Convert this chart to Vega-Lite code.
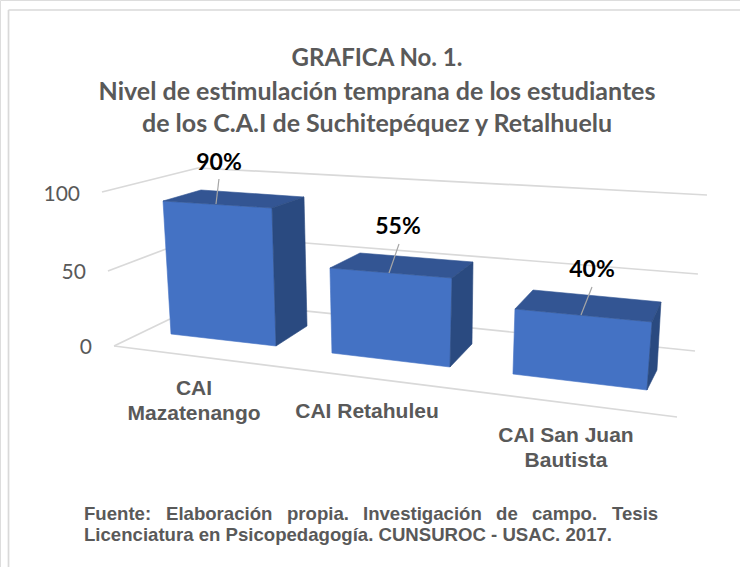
{
"$schema":"https://vega.github.io/schema/vega-lite/v6.json",
"width":740,"height":567,"padding":0,"autosize":{"type":"none"},"background":"white",
"datasets":{
"grid":[
{"x":1.15,"y":219.61,"x2":1.15,"y2":-144.44},
{"x":1.15,"y":219.61,"x2":100,"y2":219.61},
{"x":13.78,"y":100.65,"x2":26.76,"y2":116.34},
{"x":26.76,"y":116.34,"x2":95.54,"y2":98.69},
{"x":14.59,"y":49.02,"x2":22.43,"y2":63.4},
{"x":37.84,"y":68.63,"x2":94.32,"y2":47.06},
{"x":15.41,"y":0,"x2":22.97,"y2":17.65},
{"x":15.41,"y":0,"x2":91.49,"y2":-46.41},
{"x":37.84,"y":24.64,"x2":93.92,"y2":-3.27}
],
"faces":[
{"s":"1f","face":"front","i":0,"x":22.03,"y":94.77},{"s":"1f","face":"front","i":1,"x":36.76,"y":90.2},{"s":"1f","face":"front","i":2,"x":37.3,"y":0},{"s":"1f","face":"front","i":3,"x":23.11,"y":7.84},{"s":"1f","face":"front","i":4,"x":22.03,"y":94.77},
{"s":"1t","face":"top","i":0,"x":22.03,"y":94.77},{"s":"1t","face":"top","i":1,"x":27.16,"y":101.96},{"s":"1t","face":"top","i":2,"x":41.08,"y":97.39},{"s":"1t","face":"top","i":3,"x":36.76,"y":90.2},{"s":"1t","face":"top","i":4,"x":22.03,"y":94.77},
{"s":"1s","face":"side","i":0,"x":36.76,"y":90.2},{"s":"1s","face":"side","i":1,"x":41.08,"y":97.39},{"s":"1s","face":"side","i":2,"x":41.49,"y":13.07},{"s":"1s","face":"side","i":3,"x":37.3,"y":0},{"s":"1s","face":"side","i":4,"x":36.76,"y":90.2},
{"s":"2f","face":"front","i":0,"x":44.59,"y":50.98},{"s":"2f","face":"front","i":1,"x":61.08,"y":44.44},{"s":"2f","face":"front","i":2,"x":60.81,"y":-13.73},{"s":"2f","face":"front","i":3,"x":44.86,"y":-4.58},{"s":"2f","face":"front","i":4,"x":44.59,"y":50.98},
{"s":"2t","face":"top","i":0,"x":44.59,"y":50.98},{"s":"2t","face":"top","i":1,"x":48.65,"y":60.78},{"s":"2t","face":"top","i":2,"x":63.92,"y":54.9},{"s":"2t","face":"top","i":3,"x":61.08,"y":44.44},{"s":"2t","face":"top","i":4,"x":44.59,"y":50.98},
{"s":"2s","face":"side","i":0,"x":61.08,"y":44.44},{"s":"2s","face":"side","i":1,"x":63.92,"y":54.9},{"s":"2s","face":"side","i":2,"x":63.78,"y":1.31},{"s":"2s","face":"side","i":3,"x":60.81,"y":-13.73},{"s":"2s","face":"side","i":4,"x":61.08,"y":44.44},
{"s":"3f","face":"front","i":0,"x":69.59,"y":24.18},{"s":"3f","face":"front","i":1,"x":88.11,"y":15.69},{"s":"3f","face":"front","i":2,"x":87.43,"y":-28.76},{"s":"3f","face":"front","i":3,"x":69.32,"y":-18.3},{"s":"3f","face":"front","i":4,"x":69.59,"y":24.18},
{"s":"3t","face":"top","i":0,"x":69.59,"y":24.18},{"s":"3t","face":"top","i":1,"x":72.03,"y":36.6},{"s":"3t","face":"top","i":2,"x":89.32,"y":28.76},{"s":"3t","face":"top","i":3,"x":88.11,"y":15.69},{"s":"3t","face":"top","i":4,"x":69.59,"y":24.18},
{"s":"3s","face":"side","i":0,"x":88.11,"y":15.69},{"s":"3s","face":"side","i":1,"x":89.32,"y":28.76},{"s":"3s","face":"side","i":2,"x":88.78,"y":-15.69},{"s":"3s","face":"side","i":3,"x":87.43,"y":-28.76},{"s":"3s","face":"side","i":4,"x":88.11,"y":15.69}
],
"leaders":[
{"x":29.59,"y":109.15,"x2":29.19,"y2":92.81},
{"x":53.92,"y":66.67,"x2":52.57,"y2":47.71},
{"x":80,"y":38.56,"x2":78.51,"y2":20.26}
],
"title1":[
{"x":50.95,"y":188.89,"t":"GRAFICA No. 1."}
],
"title2":[
{"x":50.95,"y":167.32,"t":"Nivel de estimulación temprana de los estudiantes"},
{"x":50.95,"y":146.41,"t":"de los C.A.I de Suchitepéquez y Retalhuelu"}
],
"labels":[
{"x":29.59,"y":120.92,"t":"90%"},
{"x":53.78,"y":79.08,"t":"55%"},
{"x":80,"y":50.98,"t":"40%"}
],
"ticks":[
{"x":10.81,"y":100,"t":"100"},
{"x":11.62,"y":49,"t":"50"},
{"x":12.43,"y":0,"t":"0"}
],
"cats":[
{"x":26.22,"y":-28.1,"t":"CAI"},
{"x":26.22,"y":-44.44,"t":"Mazatenango"},
{"x":49.59,"y":-43.14,"t":"CAI Retahuleu"},
{"x":76.49,"y":-58.82,"t":"CAI San Juan"},
{"x":76.49,"y":-75.16,"t":"Bautista"}
],
"foot":[
{"x":11.35,"y":-109.8,"t":"Fuente:"},
{"x":22.43,"y":-109.8,"t":"Elaboración"},
{"x":38.78,"y":-109.8,"t":"propia."},
{"x":49.05,"y":-109.8,"t":"Investigación"},
{"x":67.03,"y":-109.8,"t":"de"},
{"x":71.89,"y":-109.8,"t":"campo."},
{"x":82.7,"y":-109.8,"t":"Tesis"},
{"x":11.35,"y":-123.53,"t":"Licenciatura en Psicopedagogía. CUNSUROC - USAC. 2017."}
]
},
"encoding":{
"x":{"field":"x","type":"quantitative","scale":{"domain":[0,100],"range":[0,740],"nice":false,"zero":false},"axis":null},
"y":{"field":"y","type":"quantitative","scale":{"domain":[-144.44,226.14],"range":[567,0],"nice":false,"zero":false},"axis":null}
},
"layer":[
{"data":{"name":"grid"},"mark":{"type":"rule","stroke":"#d9d9d9","strokeWidth":1.7},"encoding":{"x2":{"field":"x2"},"y2":{"field":"y2"}}},
{"data":{"name":"faces"},"mark":{"type":"line","interpolate":"linear-closed","strokeWidth":0.6,"point":false,"filled":true},
 "encoding":{"detail":{"field":"s"},"order":{"field":"i"},
 "fill":{"field":"face","type":"nominal","legend":null,"scale":{"domain":["front","top","side"],"range":["#4472c4","#335593","#2a4a80"]}},
 "stroke":{"field":"face","type":"nominal","legend":null,"scale":{"domain":["front","top","side"],"range":["#4472c4","#335593","#2a4a80"]}}}},
{"data":{"name":"leaders"},"mark":{"type":"rule","stroke":"#a6a6a6","strokeWidth":1.2},"encoding":{"x2":{"field":"x2"},"y2":{"field":"y2"}}},
{"data":{"name":"title1"},"mark":{"type":"text","font":"Lato","fontWeight":"bold","fontSize":24,"fill":"#595959","align":"center","baseline":"middle","dy":2.5},"encoding":{"text":{"field":"t"}}},
{"data":{"name":"title2"},"mark":{"type":"text","font":"Lato","fontWeight":"bold","fontSize":25,"fill":"#595959","align":"center","baseline":"middle","dy":2.5},"encoding":{"text":{"field":"t"}}},
{"data":{"name":"labels"},"mark":{"type":"text","font":"Lato","fontWeight":"bold","fontSize":23,"fill":"#000000","align":"center","baseline":"middle","dy":2},"encoding":{"text":{"field":"t"}}},
{"data":{"name":"ticks"},"mark":{"type":"text","font":"Lato","fontSize":21,"fill":"#595959","align":"right","baseline":"middle","dy":2},"encoding":{"text":{"field":"t"}}},
{"data":{"name":"cats"},"mark":{"type":"text","font":"Liberation Sans","fontWeight":"bold","fontSize":21,"fill":"#595959","align":"center","baseline":"middle"},"encoding":{"text":{"field":"t"}}},
{"data":{"name":"foot"},"mark":{"type":"text","font":"Liberation Sans","fontWeight":"bold","fontSize":18.6,"fill":"#595959","align":"left","baseline":"middle"},"encoding":{"text":{"field":"t"}}}
]
}
